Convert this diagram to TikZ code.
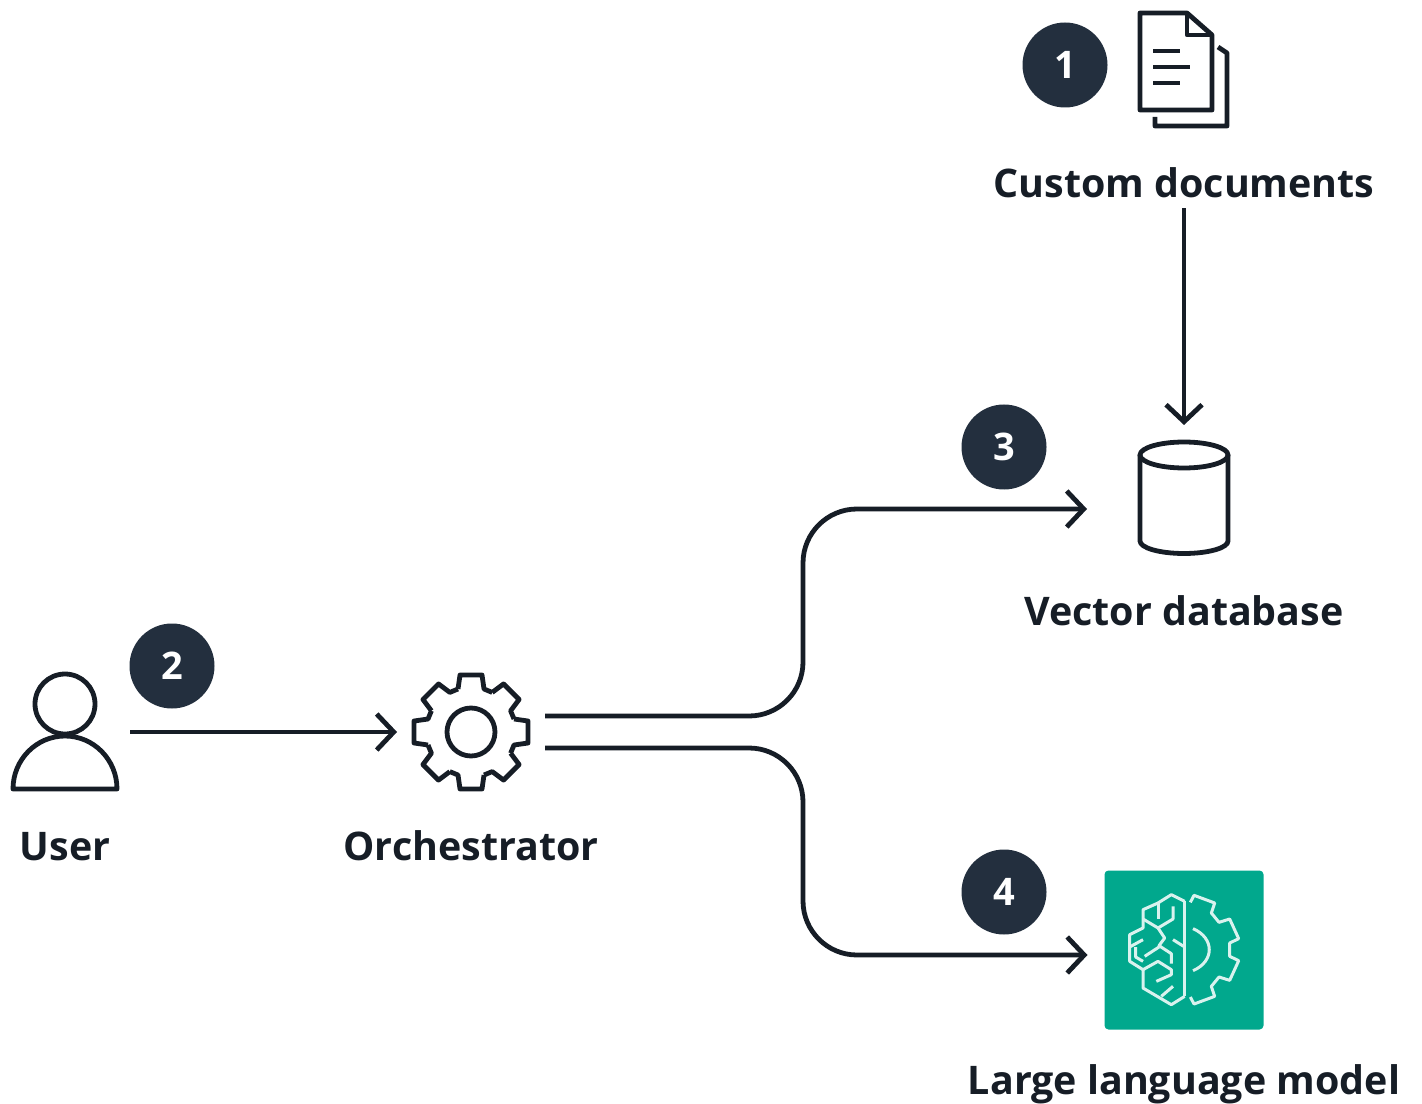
\documentclass[tikz,border=0pt]{standalone}
\usepackage{fontspec}
\setmainfont{Open Sans}
\usetikzlibrary{positioning}
\usetikzlibrary{arrows.meta}

\definecolor{inkdark}{HTML}{161D26}
\definecolor{badgedark}{HTML}{232F3E}
\definecolor{llmgreen}{HTML}{01A88D}

\tikzset{
    >={Straight Barb[length=8.5pt,width=18pt,line width=2.4pt]},
    flow/.style={draw=inkdark, line width=2.4pt},
    outline/.style={draw=inkdark, line width=2.4pt, line join=round},
    label/.style={text=inkdark, font=\fontsize{19.7}{20}\selectfont\bfseries, text height=15pt, text depth=0pt, inner xsep=0pt, inner ysep=5pt},
    badge/.style={circle, fill=badgedark, text=white, minimum size=42.5pt, inner sep=0pt, font=\fontsize{19}{19}\selectfont\bfseries},
    icon/.style={inner sep=0pt, outer sep=0pt, minimum width=#1},
    brain/.style={draw=white!85!llmgreen, line width=1.5pt, line join=round}
}

\begin{document}
\begin{tikzpicture}[x=0.5pt, y=0.5pt, on grid]
            \useasboundingbox (-65,732) rectangle (1357,-371);

            \node [icon=65pt, minimum height=57.5pt] (user) at (0,0) {};
            \node [icon=74pt, minimum height=59pt, right=203pt of user] (orch) {};
            \coordinate [right=166pt of orch] (split);

            \node [icon=97pt, minimum height=72pt, above right=117.5pt and 559.5pt of user] (db) {};
            \node [icon=79.5pt, minimum height=79.5pt, fill=llmgreen, rounded corners=2pt, below right=109pt and 559.5pt of user] (llm) {};
            \node [icon=45pt, minimum height=57.5pt, above=213.5pt of db] (docs) {};

            \node [label, below=56.5pt of user] (userlabel) {User};
            \node [label, below=56.5pt of orch] (orchlabel) {Orchestrator};
            \node [label, below=56.5pt of docs] (docslabel) {Custom documents};
            \node [label, below=56.5pt of db] (dblabel) {Vector database};
            \node [label, below=64.5pt of llm] (llmlabel) {Large language model};

            \node [badge, above left=2.5pt and 59.5pt of docs] (one) {1};
            \node [badge, above right=33pt and 53.5pt of user] (two) {2};
            \node [badge, above left=25pt and 90pt of db] (three) {3};
            \node [badge, above left=29pt and 90pt of llm] (four) {4};

            \coordinate (orchup) at ([yshift=8pt]orch.east);
            \coordinate (orchdown) at ([yshift=-8pt]orch.east);
            \coordinate (dbin) at ([yshift=-6pt]db.west);
            \coordinate (llmin) at ([xshift=-8.5pt, yshift=-2.5pt]llm.west);

            % connectors
            \draw [flow, ->] (user.east) -- (orch.west);
            \draw [flow, ->] (docslabel.south) -- (db.north);
            \draw [flow, ->, rounded corners=27pt] (orchup) -- (orchup -| split) -- (dbin -| split) -- (dbin);
            \draw [flow, ->, rounded corners=27pt] (orchdown) -- (orchdown -| split) -- (llmin -| split) -- (llmin);

            % user
            \begin{scope}[shift={(user.center)}, y=-0.5pt]
                \draw [outline] (0,-28) circle (30);
                \draw [outline] (-52,57) arc (180:0:52 and -53) -- cycle;
            \end{scope}

            % gear
            \begin{scope}[shift={(orch.center)}, y=-0.5pt]
                \foreach \a in {0,45,...,315} {
                    \draw [outline, rotate=\a] (43,-13) -- (57,-11) -- (57,11) -- (43,13) -- (39.6,21.2);
                }
                \draw [outline] (0,0) circle (24);
            \end{scope}

            % documents
            \begin{scope}[shift={(docs.center)}, y=-0.5pt]
                \draw [outline] (-44,-57) -- (3,-57) -- (28,-35) -- (28,40) -- (-44,40) -- cycle;
                \draw [outline] (3,-57) -- (3,-35) -- (28,-35);
                \draw [outline] (-31,-19) -- (-4,-19);
                \draw [outline] (-31,-3) -- (6,-3);
                \draw [outline] (-31,13) -- (-4,13);
                \draw [outline] (34,-23) -- (43,-17) -- (43,56) -- (-29,56) -- (-29,47);
            \end{scope}

            % database
            \begin{scope}[shift={(db.center)}, y=-0.5pt]
                \draw [outline] (0,-42) ellipse (44 and 13);
                \draw [outline] (-44,-42) -- (-44,44) arc (180:360:44 and -12.5) -- (44,-42);
            \end{scope}

            % model
            \begin{scope}[shift={(llm.center)}, x=0.1667pt, y=-0.1667pt, shift={(-283,-271)}]
                \draw [brain] (285,125) -- (285,410);
                \draw [brain] (285,125) -- (245,105) -- (205,130) -- (160,150) -- (160,205) -- (120,225) -- (120,305) -- (160,330) -- (160,385) -- (245,435) -- (285,410);
                \draw [brain] (205,130) -- (205,178);
                \draw [brain] (160,178) -- (205,205) -- (250,178) -- (250,140);
                \draw [brain] (205,205) -- (225,235) -- (208,258) -- (245,282) -- (245,312);
                \draw [brain] (250,240) -- (285,262);
                \draw [brain] (120,262) -- (160,240);
                \draw [brain] (138,262) -- (138,292) -- (160,305);
                \draw [brain] (165,290) -- (208,262);
                \draw [brain] (160,330) -- (205,305) -- (245,330) -- (245,345) -- (200,365);
                \draw [brain] (215,410) -- (250,380);
                \draw [brain] (302,128) -- (313,107) -- (375,130) -- (365,160) -- (388,188) -- (420,178) -- (447,237) -- (420,250) -- (420,290) -- (447,303) -- (420,362) -- (388,352) -- (365,380) -- (375,410) -- (313,433) -- (302,412);
                \draw [brain] (310,207) .. controls (375,235) and (375,305) .. (310,333);
            \end{scope}
        \end{tikzpicture}
\end{document}
